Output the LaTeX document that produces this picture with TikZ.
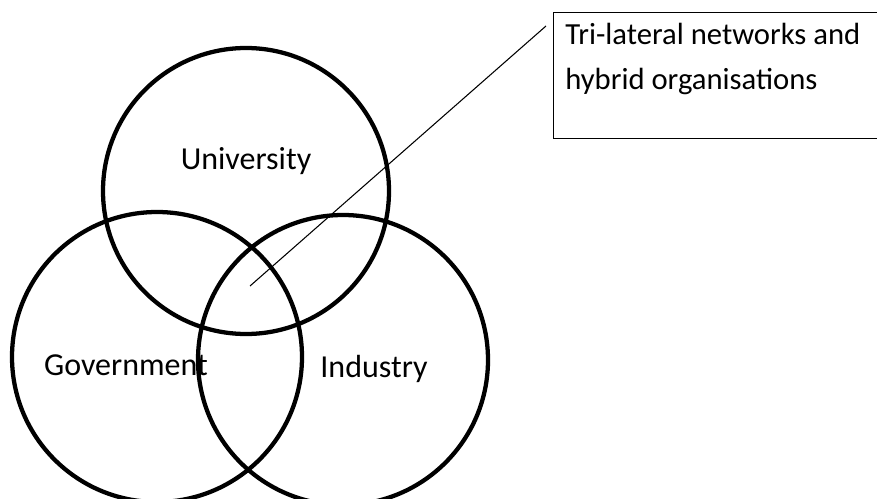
\documentclass[tikz,border=0pt]{standalone}
\usepackage{fontspec}
\setmainfont{Carlito}

\tikzset{
  ring/.style={line width=3.2pt},
  label/.style={font=\fontsize{24}{28}\selectfont, inner sep=0pt}
}

\begin{document}
\begin{tikzpicture}[x=0.75pt,y=-0.75pt]

    % Fix the page to the size of the reference
    \useasboundingbox (0,0) rectangle (877,499);
    \clip (0,0) rectangle (877,499);

    % Define the centres of the three circles
    \coordinate (U) at (246,191);
    \coordinate (G) at (157,357);
    \coordinate (I) at (343,360);

    % Draw the three spheres
    \draw[ring] (U) circle (143);
    \draw[ring] (G) circle (145);
    \draw[ring] (I) circle (145);

    % Name the spheres
    \node[label, anchor=base] (univ) at (246,170) {University};
    \node[label, anchor=base] (gov) at (126,375) {Government};
    \node[label, anchor=base] (ind) at (374,377) {Industry};

    % Box for the overlap
    \node[draw, line width=1pt, anchor=north west, minimum width=255pt, minimum height=94.5pt] (box) at (553,12) {};
    \node[label, anchor=base west, align=left, font=\fontsize{23}{33.75}\selectfont] (boxtext) at (565,90)
        {Tri-lateral networks and\\hybrid organisations};

    % Pointer from the box into the centre
    \coordinate (tail) at (546,26);
    \coordinate (tip) at (250,286);
    \draw[line width=0.8pt] (tail) -- (tip);

\end{tikzpicture}
\end{document}
